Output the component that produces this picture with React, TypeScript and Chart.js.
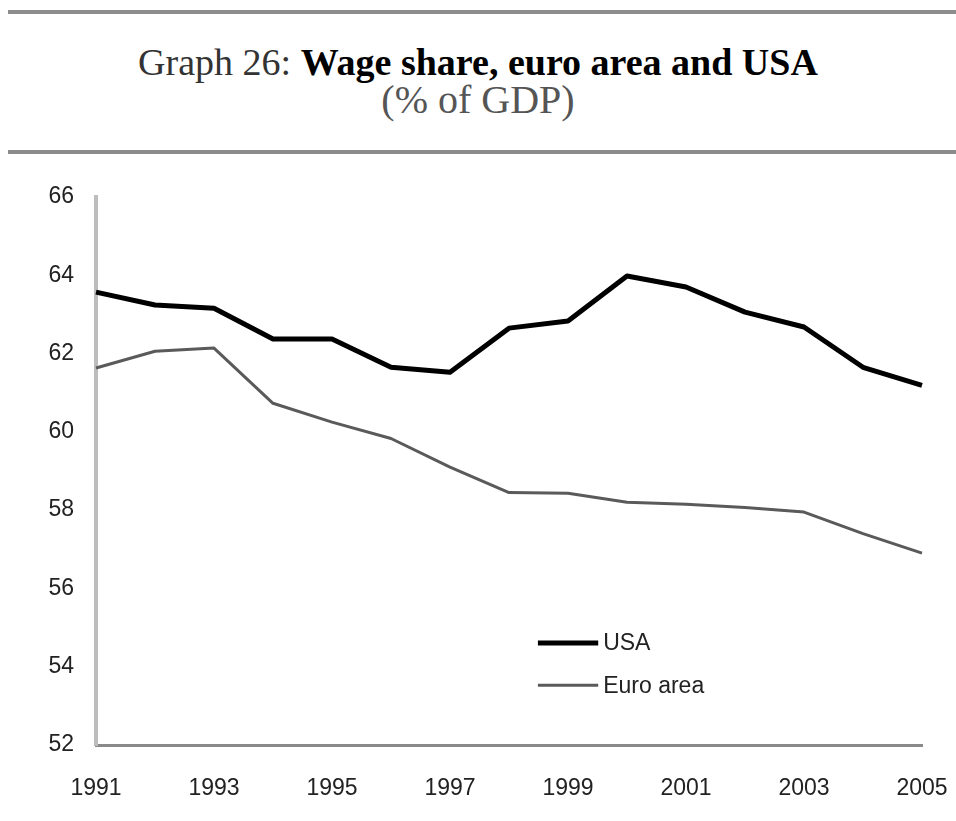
import React, { useEffect, useRef } from "react";
import { Chart, registerables } from "chart.js";

Chart.register(...registerables);

const years = ["1991", "1992", "1993", "1994", "1995", "1996", "1997", "1998", "1999", "2000", "2001", "2002", "2003", "2004", "2005"];
const usaValues = [63.57, 63.24, 63.16, 62.37, 62.37, 61.65, 61.52, 62.65, 62.83, 63.98, 63.7, 63.06, 62.68, 61.65, 61.19];
const euroValues = [61.63, 62.06, 62.14, 60.73, 60.25, 59.83, 59.1, 58.45, 58.43, 58.2, 58.15, 58.07, 57.95, 57.4, 56.9];
const seriesNames = ["USA", "Euro area"];
const yMin = 52;
const yMax = 66;
const yStep = 2;

const TICK_FONT = "'Liberation Sans Narrow', 'Arial Narrow', 'Liberation Sans', Arial, sans-serif";

const insetLegend = {
  id: "insetLegend",
  afterDraw(chart: any) {
    const { ctx, chartArea } = chart;
    const w = chartArea.right - chartArea.left;
    const h = chartArea.bottom - chartArea.top;
    const x0 = chartArea.left + 0.535 * w;
    const x1 = chartArea.left + 0.608 * w;
    const tx = chartArea.left + 0.614 * w;
    const rows = [0.814, 0.891];
    ctx.save();
    chart.data.datasets.forEach((ds: any, i: number) => {
      const y = chartArea.top + rows[i] * h;
      ctx.beginPath();
      ctx.strokeStyle = ds.borderColor;
      ctx.lineWidth = ds.borderWidth;
      ctx.moveTo(x0, y);
      ctx.lineTo(x1, y);
      ctx.stroke();
      ctx.fillStyle = "#222";
      ctx.font = "23px " + TICK_FONT;
      ctx.textBaseline = "middle";
      ctx.textAlign = "left";
      ctx.fillText(ds.label, tx, y + 1);
    });
    ctx.restore();
  },
};

export default function App() {
  const ref = useRef<HTMLCanvasElement>(null);

  useEffect(() => {
    if (!ref.current) return;
    const chart = new Chart(ref.current, {
      type: "line",
      data: {
        labels: years,
        datasets: [
          {
            label: seriesNames[0],
            data: usaValues,
            borderColor: "#000000",
            borderWidth: 5,
            pointRadius: 0,
            tension: 0,
            borderJoinStyle: "round",
          },
          {
            label: seriesNames[1],
            data: euroValues,
            borderColor: "#5a5a5a",
            borderWidth: 3,
            pointRadius: 0,
            tension: 0,
            borderJoinStyle: "round",
          },
        ],
      },
      options: {
        responsive: false,
        animation: false,
        layout: { padding: { top: 37, right: 34, left: 0, bottom: 0 } },
        plugins: {
          legend: { display: false },
          title: { display: false },
          tooltip: { enabled: false },
        },
        scales: {
          x: {
            offset: false,
            grid: { display: false, drawTicks: false },
            border: { display: true, color: "#8a8a8a", width: 3 },
            ticks: {
              autoSkip: false,
              maxRotation: 0,
              padding: 30,
              color: "#222",
              font: { size: 23, family: TICK_FONT },
              callback: (_v: any, i: number) => (i % 2 === 0 ? years[i] : ""),
            },
            afterFit: (s: any) => {
              s.height = 76;
              s.paddingLeft = 0;
              s.paddingRight = 0;
            },
          },
          y: {
            min: yMin,
            max: yMax,
            grid: { display: false, drawTicks: false },
            border: { display: true, color: "#bdbdbd", width: 4 },
            ticks: {
              stepSize: yStep,
              padding: 22,
              color: "#222",
              font: { size: 23, family: TICK_FONT },
            },
            afterFit: (s: any) => {
              s.width = 96;
            },
          },
        },
      },
      plugins: [insetLegend],
    });
    return () => chart.destroy();
  }, []);

  const serif = "'Liberation Serif', 'DejaVu Serif', serif";

  return (
    <div style={{ position: "absolute", left: 0, top: 0, width: 956, height: 821, background: "#fff", overflow: "hidden" }}>
      <div style={{ position: "absolute", left: 8, right: 0, top: 10, height: 4, background: "#8c8c8c" }} />
      <div
        style={{
          position: "absolute",
          left: 0,
          width: 956,
          top: 40,
          lineHeight: "44px",
          textAlign: "center",
          fontFamily: serif,
          fontSize: 38,
          color: "#333",
          whiteSpace: "nowrap",
        }}
      >
        <span>Graph 26: </span>
        <span style={{ fontWeight: "bold", color: "#000" }}>Wage share, euro area and USA</span>
      </div>
      <div
        style={{
          position: "absolute",
          left: 0,
          width: 956,
          top: 78,
          lineHeight: "44px",
          textAlign: "center",
          fontFamily: serif,
          fontSize: 40,
          color: "#555",
          whiteSpace: "nowrap",
        }}
      >
        (% of GDP)
      </div>
      <div style={{ position: "absolute", left: 8, right: 0, top: 150, height: 4, background: "#8c8c8c" }} />
      <canvas ref={ref} width={956} height={661} style={{ position: "absolute", left: 0, top: 160, width: 956, height: 661 }} />
    </div>
  );
}
